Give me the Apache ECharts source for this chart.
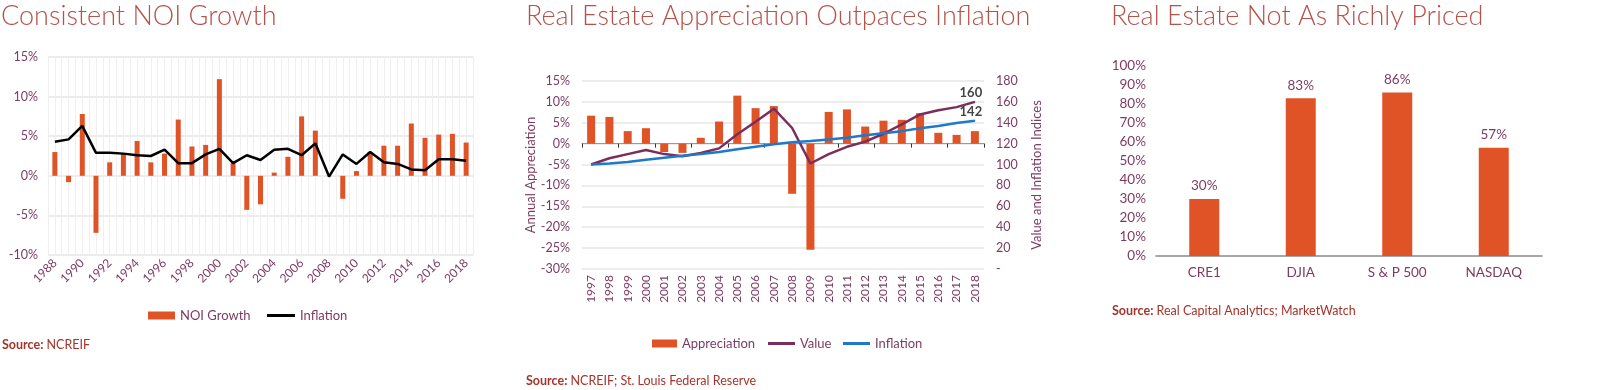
<!DOCTYPE html>
<html><head><meta charset="utf-8">
<script src="https://cdn.jsdelivr.net/npm/echarts@6/dist/echarts.min.js"></script>
<style>html,body{margin:0;padding:0;background:#fff}#c{width:1600px;height:390px}</style>
</head><body><div id="c"></div>
<script>
// Chart 1
const years1 = ['1988','1989','1990','1991','1992','1993','1994','1995','1996','1997','1998','1999','2000','2001','2002','2003','2004','2005','2006','2007','2008','2009','2010','2011','2012','2013','2014','2015','2016','2017','2018'];
const noiGrowth = [3.0,-0.8,7.8,-7.2,1.7,2.8,4.4,1.7,2.8,7.1,3.7,3.9,12.2,1.6,-4.3,-3.6,0.4,2.4,7.5,5.7,0.0,-2.9,0.6,3.0,3.8,3.8,6.6,4.8,5.2,5.3,4.2];
const inflation1 = [4.3,4.6,6.3,2.9,2.9,2.8,2.6,2.5,3.3,1.6,1.6,2.7,3.4,1.6,2.6,2.0,3.3,3.4,2.6,4.1,-0.1,2.7,1.5,3.0,1.7,1.5,0.8,0.7,2.1,2.1,1.9];
// Chart 2
const years2 = ['1997','1998','1999','2000','2001','2002','2003','2004','2005','2006','2007','2008','2009','2010','2011','2012','2013','2014','2015','2016','2017','2018'];
const appreciation = [6.7,6.4,3.0,3.7,-2.0,-2.2,1.4,5.3,11.5,8.5,9.0,-12.0,-25.4,7.6,8.2,4.1,5.5,5.7,7.3,2.6,2.1,3.0];
const valueIdx = [100,106,110,114,110,108,111,115.5,129,141,153.5,135,101,110,117,122,129.5,138.5,148,152,155,160];
const inflationIdx = [100,101,102.5,104.7,106.6,108.5,110,112,114.6,117,119.4,121.3,122.5,124,125.7,128,130,132,134.7,137,139.8,142];
// Chart 3
const cats3 = ['CRE1','DJIA','S & P 500','NASDAQ'];
const priced = [30,83,86,57];

const ORANGE = '#e05326';
const PURPLE = '#7d3b62';
const TITLE = '#b5524a';
const SRC = '#a5342c';
const FONT = 'Lato, "Open Sans", sans-serif';
const GRID = '#e6e6e6';
const BLUE = '#1f78c8';
const PLUM = '#7b2d5b';

const lastLabel = (arr) => arr.map((v, i) => i === arr.length - 1
  ? {value: v, symbol: 'circle', symbolSize: 1,
     label: {show: true, position: 'top', formatter: String(Math.round(v)), color: '#444', fontWeight: 'bold', fontSize: 13, fontFamily: FONT, distance: 2, offset: [-4, 0]}}
  : v);

const titleStyle = {color: TITLE, fontSize: 27, fontWeight: 300, fontFamily: FONT};
const srcStyle = {color: SRC, fontSize: 12.5, fontWeight: 'normal', fontFamily: FONT,
  rich: {b: {fontWeight: 'bold', color: SRC, fontSize: 12.5, fontFamily: FONT}}};
const legTxt = {color: PURPLE, fontSize: 13, fontFamily: FONT};
const leg = (name, left, centerY, w, h, color) => ({
  data: [{name: name, icon: 'rect', itemStyle: {color: color}}], left: left, top: centerY - 8, itemWidth: w, itemHeight: h,
  textStyle: legTxt, selectedMode: false, padding: 0, height: 16
});

const chart = echarts.init(document.getElementById('c'), null, {renderer: 'canvas'});
const option = {
  animation: false,
  textStyle: {fontFamily: FONT},
  title: [
    {text: 'Consistent NOI Growth', left: 1, top: 3, padding: 0, textStyle: titleStyle},
    {text: 'Real Estate Appreciation Outpaces Inflation', left: 526, top: 3, padding: 0, textStyle: titleStyle},
    {text: 'Real Estate Not As Richly Priced', left: 1111, top: 3, padding: 0, textStyle: titleStyle},
    {text: '{b|Source:} NCREIF', left: 2, top: 338, padding: 0, textStyle: srcStyle},
    {text: '{b|Source:} NCREIF; St. Louis Federal Reserve', left: 526, top: 374, padding: 0, textStyle: srcStyle},
    {text: '{b|Source:} Real Capital Analytics; MarketWatch', left: 1112, top: 304, padding: 0, textStyle: srcStyle}
  ],
  legend: [
    leg('NOI Growth', 148, 317, 27, 8, ORANGE),
    leg('Inflation', 267, 317, 28, 3, '#000'),
    leg('Appreciation', 652, 345, 25, 8, ORANGE),
    leg('Value', 768, 345, 27, 3, PLUM),
    leg('Inflation ', 843, 345, 27, 3, BLUE)
  ],
  grid: [
    {left: 48, top: 57, width: 425, height: 198, containLabel: false},
    {left: 582, top: 81, width: 402, height: 188, containLabel: false},
    {left: 1156, top: 66, width: 386, height: 190, containLabel: false}
  ],
  xAxis: [
    {gridIndex: 0, type: 'category', data: years1, position: 'bottom', axisLine: {onZero: false, show: false}, axisTick: {show: false},
     axisLabel: {interval: 1, rotate: 45, color: PURPLE, fontSize: 12, margin: 6, fontFamily: FONT}},
    {gridIndex: 0, type: 'value', min: 0, max: 62, interval: 1, show: true, position: 'top', axisLine: {show: false}, axisTick: {show: false}, axisLabel: {show: false},
     splitLine: {show: true, lineStyle: {color: '#efefef', width: 1}}},
    {gridIndex: 1, type: 'category', data: years2, axisLine: {onZero: true, onZeroAxisIndex: 1, lineStyle: {color: '#999'}},
     axisTick: {show: true, length: 4, lineStyle: {color: '#333'}}, axisLabel: {show: false}},
    {gridIndex: 1, type: 'category', data: years2, position: 'bottom', axisLine: {show: false, onZero: false}, axisTick: {show: false},
     axisLabel: {interval: 0, rotate: 90, color: PURPLE, fontSize: 12, margin: 6, fontFamily: FONT}},
    {gridIndex: 2, type: 'category', data: cats3, axisLine: {lineStyle: {color: '#8a8a8a', width: 1.5}}, axisTick: {show: false},
     axisLabel: {color: PURPLE, fontSize: 13.5, margin: 10, fontFamily: FONT}}
  ],
  yAxis: [
    {gridIndex: 0, type: 'value', min: -10, max: 15, interval: 5, axisLine: {show: false}, axisTick: {show: false},
     axisLabel: {formatter: '{value}%', color: PURPLE, fontSize: 12.5, margin: 10, fontFamily: FONT},
     splitLine: {lineStyle: {color: GRID, width: 1.5}}},
    {gridIndex: 1, type: 'value', min: -30, max: 15, interval: 5, axisLine: {show: false}, axisTick: {show: false},
     axisLabel: {formatter: '{value}%', color: PURPLE, fontSize: 12.5, margin: 12, fontFamily: FONT},
     name: 'Annual Appreciation', nameLocation: 'middle', nameGap: 44, nameTextStyle: {color: PURPLE, fontSize: 13, fontFamily: FONT},
     splitLine: {lineStyle: {color: GRID, width: 1.5}}},
    {gridIndex: 1, type: 'value', min: 0, max: 180, interval: 20, position: 'right', axisLine: {show: false}, axisTick: {show: false},
     axisLabel: {formatter: v => v === 0 ? '-' : String(v), color: PURPLE, fontSize: 12.5, margin: 12, fontFamily: FONT},
     name: 'Value and Inflation Indices', nameLocation: 'middle', nameGap: 46, nameTextStyle: {color: PURPLE, fontSize: 13, fontFamily: FONT},
     splitLine: {show: false}},
    {gridIndex: 2, type: 'value', min: 0, max: 100, interval: 10, axisLine: {show: false}, axisTick: {show: false},
     axisLabel: {formatter: '{value}%', color: PURPLE, fontSize: 13.5, margin: 10, fontFamily: FONT},
     splitLine: {show: false}}
  ],
  series: [
    {name: 'NOI Growth', type: 'bar', xAxisIndex: 0, yAxisIndex: 0, data: noiGrowth, barWidth: 5, itemStyle: {color: ORANGE}},
    {name: 'Inflation', type: 'line', xAxisIndex: 0, yAxisIndex: 0, data: inflation1, symbol: 'none', lineStyle: {color: '#000', width: 2.5}, itemStyle: {color: '#000'}},
    {name: 'Appreciation', type: 'bar', xAxisIndex: 2, yAxisIndex: 1, data: appreciation, barWidth: 8, itemStyle: {color: ORANGE}},
    {name: 'Value', type: 'line', xAxisIndex: 2, yAxisIndex: 2, data: lastLabel(valueIdx), symbol: 'circle', symbolSize: 0, showSymbol: true,
     lineStyle: {color: PLUM, width: 2.5}, itemStyle: {color: PLUM}},
    {name: 'Inflation ', type: 'line', xAxisIndex: 2, yAxisIndex: 2, data: lastLabel(inflationIdx), symbol: 'circle', symbolSize: 0, showSymbol: true,
     lineStyle: {color: BLUE, width: 2.5}, itemStyle: {color: BLUE}},
    {name: 'Priced', type: 'bar', xAxisIndex: 4, yAxisIndex: 3, data: priced, barWidth: 30, itemStyle: {color: ORANGE},
     label: {show: true, position: 'top', formatter: '{c}%', color: PURPLE, fontSize: 13.5, distance: 6, fontFamily: FONT}}
  ]
};
chart.setOption(option);
</script></body></html>
